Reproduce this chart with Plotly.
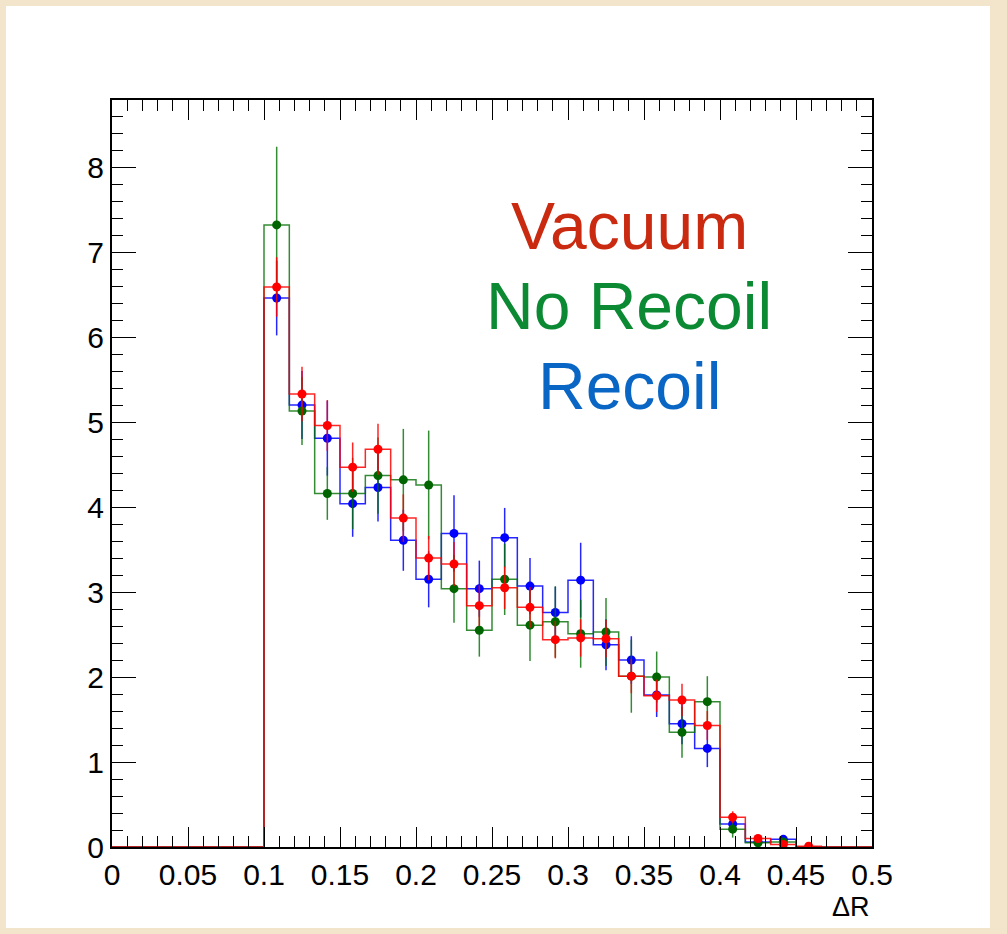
import numpy as np
import plotly.graph_objects as go

# 30 bins from 0 to 0.5 (width 1/60)
edges = np.linspace(0.0, 0.5, 31)
centers = 0.5 * (edges[:-1] + edges[1:])

vacuum = [0, 0, 0, 0, 0, 0,
          6.59, 5.33, 4.96, 4.47, 4.68, 3.87, 3.40, 3.33, 2.84, 3.05, 2.82, 2.44,
          2.46, 2.45, 2.01, 1.78, 1.73, 1.43, 0.35, 0.10, 0.03, 0.01, 0, 0]
vacuum_err = [0, 0, 0, 0, 0, 0,
              0.35, 0.32, 0.30, 0.29, 0.30, 0.28, 0.26, 0.26, 0.24, 0.25, 0.24, 0.22,
              0.22, 0.22, 0.20, 0.19, 0.19, 0.17, 0.07, 0.04, 0.02, 0.01, 0, 0]

no_recoil = [0, 0, 0, 0, 0, 0,
             7.32, 5.13, 4.16, 4.16, 4.37, 4.32, 4.26, 3.04, 2.55, 3.15, 2.61, 2.65,
             2.51, 2.53, 2.01, 2.00, 1.35, 1.71, 0.21, 0.05, 0.06, 0, 0, 0]
no_recoil_err = [0, 0, 0, 0, 0, 0,
                 0.92, 0.40, 0.31, 0.42, 0.45, 0.60, 0.64, 0.40, 0.31, 0.42, 0.42, 0.42,
                 0.40, 0.40, 0.43, 0.30, 0.30, 0.30, 0.10, 0.04, 0.04, 0, 0, 0]

recoil = [0, 0, 0, 0, 0, 0,
          6.46, 5.20, 4.81, 4.04, 4.23, 3.61, 3.15, 3.69, 3.04, 3.64, 3.07, 2.76,
          3.14, 2.38, 2.20, 1.79, 1.45, 1.16, 0.27, 0.06, 0.09, 0, 0, 0]
recoil_err = [0, 0, 0, 0, 0, 0,
              0.44, 0.40, 0.44, 0.39, 0.40, 0.36, 0.33, 0.45, 0.33, 0.35, 0.33, 0.30,
              0.44, 0.30, 0.28, 0.26, 0.24, 0.22, 0.10, 0.04, 0.05, 0, 0, 0]

x_ticks = [0, 0.05, 0.1, 0.15, 0.2, 0.25, 0.3, 0.35, 0.4, 0.45, 0.5]
x_labels = ["0", "0.05", "0.1", "0.15", "0.2", "0.25", "0.3", "0.35", "0.4", "0.45", "0.5"]
y_ticks = [0, 1, 2, 3, 4, 5, 6, 7, 8]

series = [
    ("Recoil", recoil, recoil_err, "rgba(0,0,255,0.85)", "#0000ff"),
    ("No Recoil", no_recoil, no_recoil_err, "rgba(0,110,0,0.8)", "#006400"),
    ("Vacuum", vacuum, vacuum_err, "rgba(255,0,0,0.85)", "#ff0000"),
]

fig = go.Figure()
for name, vals, errs, lcol, mcol in series:
    ystep = list(vals) + [vals[-1]]
    fig.add_trace(go.Scatter(
        x=edges, y=ystep, mode="lines", line=dict(color=lcol, width=1.5, shape="hv"),
        showlegend=False, hoverinfo="skip"))
    idx = [i for i, v in enumerate(vals) if v > 0]
    fig.add_trace(go.Scatter(
        x=[centers[i] for i in idx], y=[vals[i] for i in idx], mode="markers",
        marker=dict(color=mcol, size=9, symbol="circle"),
        error_y=dict(type="data", array=[errs[i] for i in idx], color=lcol,
                     thickness=1.5, width=0),
        showlegend=False, name=name))

W, H = 1007, 934
L, R, T, B = 112, 872, 100, 847


def px(xp):
    return (xp - L) / (R - L)


def py(yp):
    return (B - yp) / (B - T)


fig.add_shape(type="rect", xref="paper", yref="paper", layer="below",
              x0=px(6), x1=px(990), y0=py(928), y1=py(6),
              fillcolor="white", line=dict(width=0))

tick_font = dict(family="Liberation Sans, Arial, sans-serif", size=30, color="black")
fig.update_xaxes(range=[0, 0.5], tickvals=x_ticks, ticktext=x_labels,
                 ticks="inside", ticklen=20, tickwidth=1, tickcolor="black",
                 minor=dict(dtick=0.01, ticks="inside", ticklen=11, tickwidth=1, tickcolor="black"),
                 showline=True, linecolor="black", linewidth=2, mirror="allticks",
                 showgrid=False, zeroline=False, tickfont=tick_font)
fig.update_yaxes(range=[0, 8.79], tickvals=y_ticks,
                 ticks="inside", ticklen=24, tickwidth=1, tickcolor="black",
                 minor=dict(dtick=0.2, ticks="inside", ticklen=11, tickwidth=1, tickcolor="black"),
                 showline=True, linecolor="black", linewidth=2, mirror="allticks",
                 showgrid=False, zeroline=False, tickfont=tick_font)

label_font = "Liberation Sans, Arial, sans-serif"
for text, ycen, col in [("Vacuum", 227, "#c92a10"), ("No Recoil", 307, "#0b8a33"),
                        ("Recoil", 387, "#0a66c4")]:
    fig.add_annotation(text=text, xref="paper", yref="paper", x=px(629), y=py(ycen - 1),
                       xanchor="center", yanchor="middle", showarrow=False,
                       font=dict(family=label_font, size=66, color=col))

fig.add_annotation(text="ΔR", xref="paper", yref="paper", x=1.0, y=py(907),
                   xanchor="right", yanchor="middle", showarrow=False,
                   font=dict(family=label_font, size=27, color="black"))

fig.update_layout(width=W, height=H, margin=dict(l=L, r=W - R, t=T, b=H - B),
                  paper_bgcolor="#f3e4cc", plot_bgcolor="white")

fig.write_html("out.html")
